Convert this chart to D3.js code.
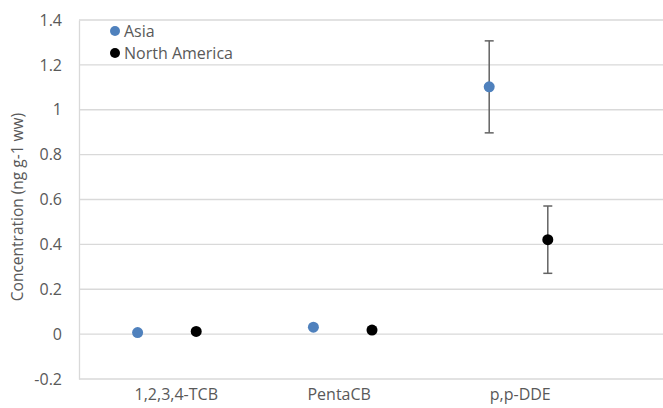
<!DOCTYPE html>
<html lang="en">
<head>
    <meta charset="UTF-8">
    <title>Concentration by region</title>
    <script src="https://d3js.org/d3.v7.min.js"></script>
    <style>
        body { margin: 0; background: #fff; }
        text { font-family: "Open Sans", "DejaVu Sans", sans-serif; fill: #595959; }
    </style>
</head>
<body>
    <div id="chart"></div>
    <script>
        // Data
        const categories = ["1,2,3,4-TCB", "PentaCB", "p,p-DDE"];
        const labelPos = [1.66, 4.44, 7.53];   // where each category label sits on the x axis
        const asiaX = [1, 4, 7];
        const asiaY = [0.007, 0.031, 1.102];
        const asiaErr = [0, 0, 0.205];
        const naX = [2, 5, 8];
        const naY = [0.012, 0.018, 0.421];
        const naErr = [0, 0.012, 0.15];
        const yTicks = [-0.2, 0, 0.2, 0.4, 0.6, 0.8, 1, 1.2, 1.4];

        const series = [
            { name: "Asia", color: "#4f81bd", xs: asiaX, ys: asiaY, errs: asiaErr },
            { name: "North America", color: "#000000", xs: naX, ys: naY, errs: naErr }
        ];

        const width = 663, height = 408;
        const margin = { top: 20, right: 0, bottom: 29, left: 79 };

        const svg = d3.select("#chart").append("svg")
            .attr("width", width)
            .attr("height", height);

        const x = d3.scaleLinear().domain([0, 10]).range([margin.left, width - margin.right + 2]);
        const y = d3.scaleLinear().domain([-0.2, 1.4]).range([height - margin.bottom, margin.top]);

        // Gridlines
        svg.append("g")
            .selectAll("line")
            .data(yTicks)
            .join("line")
            .attr("x1", margin.left)
            .attr("x2", width)
            .attr("y1", d => y(d))
            .attr("y2", d => y(d))
            .attr("stroke", "#d9d9d9")
            .attr("stroke-width", 1.3);

        // Y axis (hyphen minus like the original, not the unicode minus)
        const yAxis = svg.append("g")
            .attr("transform", `translate(${margin.left},0)`)
            .call(d3.axisLeft(y).tickValues(yTicks).tickSize(0).tickPadding(17)
                .tickFormat(d => String(+d.toFixed(1))));
        yAxis.select(".domain").attr("stroke", "#d9d9d9").attr("stroke-width", 1.3);
        yAxis.selectAll("text")
            .style("font-size", "16px")
            .attr("fill", "#595959");

        // Category labels
        svg.append("g")
            .selectAll("text")
            .data(categories)
            .join("text")
            .attr("x", (d, i) => x(labelPos[i]))
            .attr("y", 400)
            .attr("text-anchor", "middle")
            .style("font-size", "16px")
            .text(d => d);

        // Axis title
        svg.append("text")
            .attr("transform", "translate(18,207) rotate(-90)")
            .attr("dy", "0.35em")
            .attr("text-anchor", "middle")
            .style("font-size", "15.5px")
            .text("Concentration (ng g-1 ww)");

        // Error bars and points
        series.forEach(s => {
            const pts = s.xs.map((xv, i) => ({ x: xv, y: s.ys[i], e: s.errs[i] }));
            const g = svg.append("g");
            const eb = g.selectAll("g.err")
                .data(pts.filter(p => p.e > 0))
                .join("g")
                .attr("class", "err")
                .attr("stroke", "#636363")
                .attr("stroke-width", 1.5);
            eb.append("line")
                .attr("x1", d => x(d.x)).attr("x2", d => x(d.x))
                .attr("y1", d => y(d.y + d.e)).attr("y2", d => y(d.y - d.e));
            eb.append("line")
                .attr("x1", d => x(d.x) - 4.5).attr("x2", d => x(d.x) + 4.5)
                .attr("y1", d => y(d.y + d.e)).attr("y2", d => y(d.y + d.e));
            eb.append("line")
                .attr("x1", d => x(d.x) - 4.5).attr("x2", d => x(d.x) + 4.5)
                .attr("y1", d => y(d.y - d.e)).attr("y2", d => y(d.y - d.e));
            g.selectAll("circle")
                .data(pts)
                .join("circle")
                .attr("cx", d => x(d.x))
                .attr("cy", d => y(d.y))
                .attr("r", 5.5)
                .attr("fill", s.color);
        });

        // Legend
        const legend = svg.append("g")
            .selectAll("g")
            .data(series)
            .join("g")
            .attr("transform", (d, i) => `translate(115,${31 + i * 22})`);
        legend.append("circle")
            .attr("r", 5)
            .attr("fill", d => d.color);
        legend.append("text")
            .attr("x", 9)
            .attr("dy", "0.35em")
            .style("font-size", "16px")
            .text(d => d.name);
    </script>
</body>
</html>
